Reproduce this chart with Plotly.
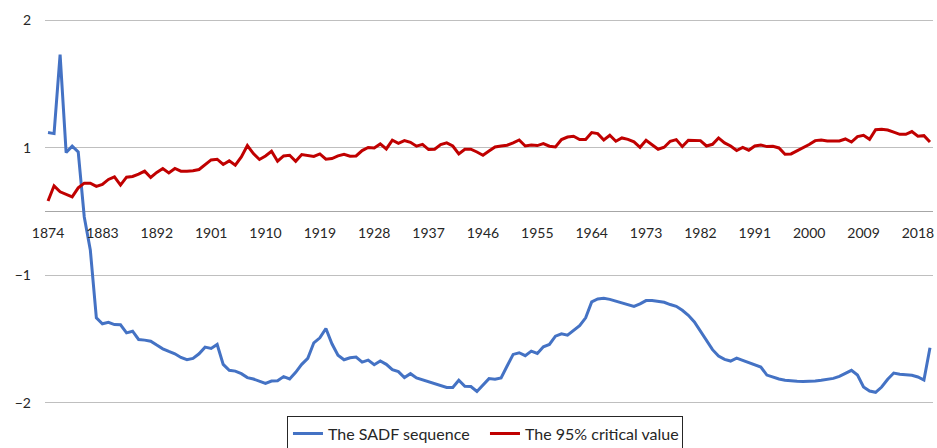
import numpy as np
import plotly.graph_objects as go

years = list(range(1874, 2021))

sadf = [
    1.119, 1.111, 1.730, 0.925, 1.012, 0.934, -0.086, -0.602, -1.334, -1.381,
    -1.369, -1.387, -1.389, -1.452, -1.439, -1.504, -1.509, -1.517, -1.548, -1.577,
    -1.598, -1.616, -1.645, -1.663, -1.652, -1.616, -1.564, -1.574, -1.543, -1.699,
    -1.746, -1.752, -1.772, -1.803, -1.814, -1.830, -1.848, -1.830, -1.827, -1.795,
    -1.814, -1.762, -1.699, -1.652, -1.530, -1.491, -1.418, -1.538, -1.627, -1.663,
    -1.647, -1.642, -1.681, -1.666, -1.702, -1.673, -1.699, -1.741, -1.756, -1.803,
    -1.772, -1.806, -1.822, -1.837, -1.850, -1.866, -1.881, -1.881, -1.824, -1.871,
    -1.873, -1.912, -1.863, -1.811, -1.816, -1.805, -1.712, -1.621, -1.608, -1.631,
    -1.595, -1.613, -1.561, -1.543, -1.478, -1.459, -1.470, -1.434, -1.395, -1.334,
    -1.209, -1.186, -1.181, -1.189, -1.202, -1.217, -1.225, -1.244, -1.225, -1.199,
    -1.199, -1.207, -1.212, -1.230, -1.244, -1.275, -1.314, -1.366, -1.439, -1.512,
    -1.584, -1.634, -1.660, -1.673, -1.650, -1.668, -1.686, -1.702, -1.720, -1.783,
    -1.801, -1.814, -1.824, -1.830, -1.832, -1.834, -1.834, -1.830, -1.824, -1.816,
    -1.809, -1.793, -1.772, -1.746, -1.783, -1.877, -1.908, -1.918, -1.877, -1.816,
    -1.767, -1.777, -1.780, -1.785, -1.798, -1.822, -1.569,
]

crit95 = [
    0.164, 0.403, 0.309, 0.269, 0.231, 0.372, 0.445, 0.445, 0.394, 0.425,
    0.503, 0.544, 0.414, 0.539, 0.550, 0.586, 0.633, 0.534, 0.613, 0.675,
    0.606, 0.675, 0.633, 0.633, 0.638, 0.659, 0.738, 0.809, 0.820, 0.738,
    0.794, 0.727, 0.856, 1.017, 0.909, 0.816, 0.872, 0.945, 0.789, 0.872,
    0.883, 0.789, 0.894, 0.883, 0.863, 0.903, 0.820, 0.831, 0.872, 0.898,
    0.867, 0.872, 0.956, 1.002, 0.997, 1.030, 0.981, 1.059, 1.035, 1.056,
    1.043, 1.012, 1.027, 0.972, 0.977, 1.025, 1.038, 1.014, 0.903, 0.977,
    0.977, 0.934, 0.883, 0.950, 1.006, 1.014, 1.020, 1.038, 1.061, 1.014,
    1.022, 1.017, 1.033, 1.012, 1.006, 1.064, 1.084, 1.090, 1.064, 1.064,
    1.119, 1.111, 1.061, 1.098, 1.051, 1.077, 1.066, 1.047, 1.004, 1.059,
    1.027, 0.977, 1.004, 1.051, 1.064, 1.009, 1.059, 1.059, 1.056, 1.014,
    1.027, 1.077, 1.038, 1.014, 0.956, 1.002, 0.961, 1.014, 1.022, 1.009,
    1.012, 0.997, 0.898, 0.903, 0.950, 1.002, 1.025, 1.056, 1.061, 1.053,
    1.051, 1.053, 1.069, 1.045, 1.088, 1.098, 1.066, 1.142, 1.145, 1.139,
    1.123, 1.105, 1.105, 1.127, 1.090, 1.095, 1.045,
]

x_tick_years = list(range(1874, 2019, 9))
y_tick_values = [2, 1, -1, -2]
y_tick_labels = ["2", "1", "\u22121", "\u22122"]


def to_axis(v):
    # The chart's value axis: unit spacing between -1 and 1 is half that beyond |1|
    v = np.asarray(v, dtype=float)
    return np.where(np.abs(v) <= 1, v, np.sign(v) * (1 + 2 * (np.abs(v) - 1)))


FONT = "Lato, Carlito, 'Liberation Sans', sans-serif"
TXT = "#262626"

fig = go.Figure()
fig.add_trace(go.Scatter(
    x=years, y=to_axis(sadf), mode="lines", name="The SADF sequence",
    line=dict(color="#4472C4", width=3),
))
fig.add_trace(go.Scatter(
    x=years, y=to_axis(crit95), mode="lines", name="The 95% critical value",
    line=dict(color="#C00000", width=3),
))

fig.update_layout(
    width=937, height=448,
    margin=dict(l=45, r=4, t=19, b=44, autoexpand=False),
    paper_bgcolor="white", plot_bgcolor="white",
    font=dict(family=FONT, size=14, color=TXT),
    showlegend=True,
    legend=dict(
        orientation="h", x=0.2725, y=-0.03, xanchor="left", yanchor="top",
        bordercolor=TXT, borderwidth=1, bgcolor="white",
        font=dict(family=FONT, size=16, color=TXT),
        entrywidth=152,
    ),
    xaxis=dict(
        range=[1873.5, 2020.5],
        tickmode="array", tickvals=x_tick_years,
        ticktext=[str(y) for y in x_tick_years],
        showgrid=False, zeroline=False, showline=False,
        anchor="free", position=0.5, automargin=False,
        ticks="", ticklabelstandoff=11,
        tickfont=dict(family=FONT, size=14, color=TXT),
    ),
    yaxis=dict(
        range=[-3.02, 3.02], automargin=False,
        tickmode="array", tickvals=list(to_axis(y_tick_values)),
        ticktext=y_tick_labels,
        showgrid=True, gridcolor="#BFBFBF", gridwidth=1,
        zeroline=True, zerolinecolor="#A6A6A6", zerolinewidth=1,
        showline=False, ticks="", ticklabelstandoff=13,
        tickfont=dict(family=FONT, size=14, color=TXT),
    ),
)

fig.write_html(
    "out.html",
    config={"displayModeBar": False},
    post_script="document.body.style.margin='0';document.body.style.overflow='hidden';",
)
